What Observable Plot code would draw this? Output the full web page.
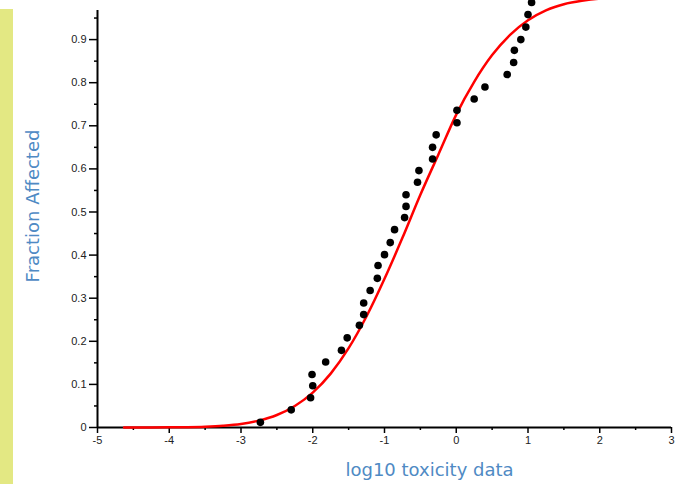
<!DOCTYPE html>
<html><head><meta charset="utf-8">
<script src="https://cdn.jsdelivr.net/npm/d3@7"></script>
<script src="https://cdn.jsdelivr.net/npm/@observablehq/plot@0.6"></script>
<style>
html,body{margin:0;padding:0;background:#fff;width:683px;height:484px;overflow:hidden}
#bar{position:absolute;left:0;top:9px;width:13px;height:475px;background:#e3e883}
#chart{position:absolute;left:0;top:0}
</style></head><body>
<div id="bar"></div><div id="chart"></div>
<script>
// observed points (log10 toxicity, fraction affected)
const dotX = [-2.73,-2.30,-2.03,-2.00,-2.01,-1.82,-1.60,-1.52,-1.35,-1.29,-1.29,-1.20,-1.10,-1.09,-1.00,-0.92,-0.86,-0.72,-0.70,-0.70,-0.54,-0.52,-0.33,-0.33,-0.28,0.01,0.01,0.25,0.40,0.71,0.80,0.81,0.90,0.97,1.00,1.05];
const dotY = [0.012,0.041,0.069,0.097,0.123,0.152,0.179,0.208,0.237,0.262,0.289,0.318,0.346,0.376,0.401,0.429,0.459,0.487,0.513,0.540,0.569,0.596,0.623,0.650,0.679,0.707,0.736,0.762,0.790,0.819,0.847,0.875,0.900,0.929,0.958,0.986];
// fitted curve
const curveX = [-4.63,-4.25,-4.0,-3.75,-3.5,-3.25,-3.0,-2.75,-2.5,-2.25,-2.0,-1.75,-1.5,-1.25,-1.0,-0.75,-0.5,-0.25,0,0.25,0.5,0.75,1.0,1.25,1.5,1.75,2.0,2.12];
const curveY = [0.0001,0.0001,0.0003,0.0008,0.0019,0.004,0.008,0.016,0.029,0.050,0.081,0.125,0.184,0.258,0.345,0.44,0.54,0.633,0.726,0.802,0.864,0.911,0.945,0.968,0.982,0.990,0.995,0.996];
const xTicks = [-5,-4,-3,-2,-1,0,1,2,3];
const xMinorTicks = [-4.5,-3.5,-2.5,-1.5,-0.5,0.5,1.5,2.5];
const yTicks = [0,0.1,0.2,0.3,0.4,0.5,0.6,0.7,0.8,0.9];
const yMinorTicks = [0.05,0.15,0.25,0.35,0.45,0.55,0.65,0.75,0.85,0.95];
const xLabel = "log10 toxicity data";
const yLabel = "Fraction Affected";

const dots = dotX.map((x,i)=>({x, y: dotY[i]}));
const curve = curveX.map((x,i)=>({x, y: curveY[i]}));
const labelStyle = {fontFamily:"DejaVu Sans, Verdana, sans-serif", fontSize:18, fill:"#4f8ac4", textAnchor:"middle", lineAnchor:"middle"};

const chart = Plot.plot({
  width: 683, height: 484,
  marginLeft: 97, marginRight: 12, marginTop: 10, marginBottom: 57,
  x: {domain: [-5, 3]},
  y: {domain: [0, 0.9675]},
  style: {fontFamily: "Liberation Sans, Arial, sans-serif", fontSize: "11px", color: "#222", background: "transparent", overflow: "visible"},
  marks: [
    Plot.axisX(xMinorTicks, {tickSize: 3, tickFormat: () => "", stroke: "black", strokeWidth: 1.5, label: null}),
    Plot.axisX(xTicks, {tickSize: 6, tickPadding: 3, tickFormat: d => String(d), stroke: "black", strokeWidth: 1.5, label: null}),
    Plot.axisY(yMinorTicks, {tickSize: 3, tickFormat: () => "", stroke: "black", strokeWidth: 1.5, label: null}),
    Plot.axisY(yTicks, {tickSize: 8, tickPadding: 3, tickFormat: d => d === 0 ? "0" : d.toFixed(1), stroke: "black", strokeWidth: 1.5, label: null}),
    Plot.ruleY([0], {x1: -5, x2: 3, stroke: "black", strokeWidth: 2}),
    Plot.ruleX([-5], {y1: 0, y2: 0.9675, stroke: "black", strokeWidth: 2}),
    Plot.line(curve, {x: "x", y: "y", stroke: "#ff0000", strokeWidth: 2.5, curve: "monotone-x"}),
    Plot.dot(dots, {x: "x", y: "y", r: 3.8, fill: "black"}),
    Plot.text([xLabel], {frameAnchor: "bottom", dx: 45, dy: 43, ...labelStyle}),
    Plot.text([yLabel], {frameAnchor: "left", rotate: -90, dx: -64, dy: -13, ...labelStyle})
  ]
});
document.getElementById("chart").appendChild(chart);
</script>
</body></html>
